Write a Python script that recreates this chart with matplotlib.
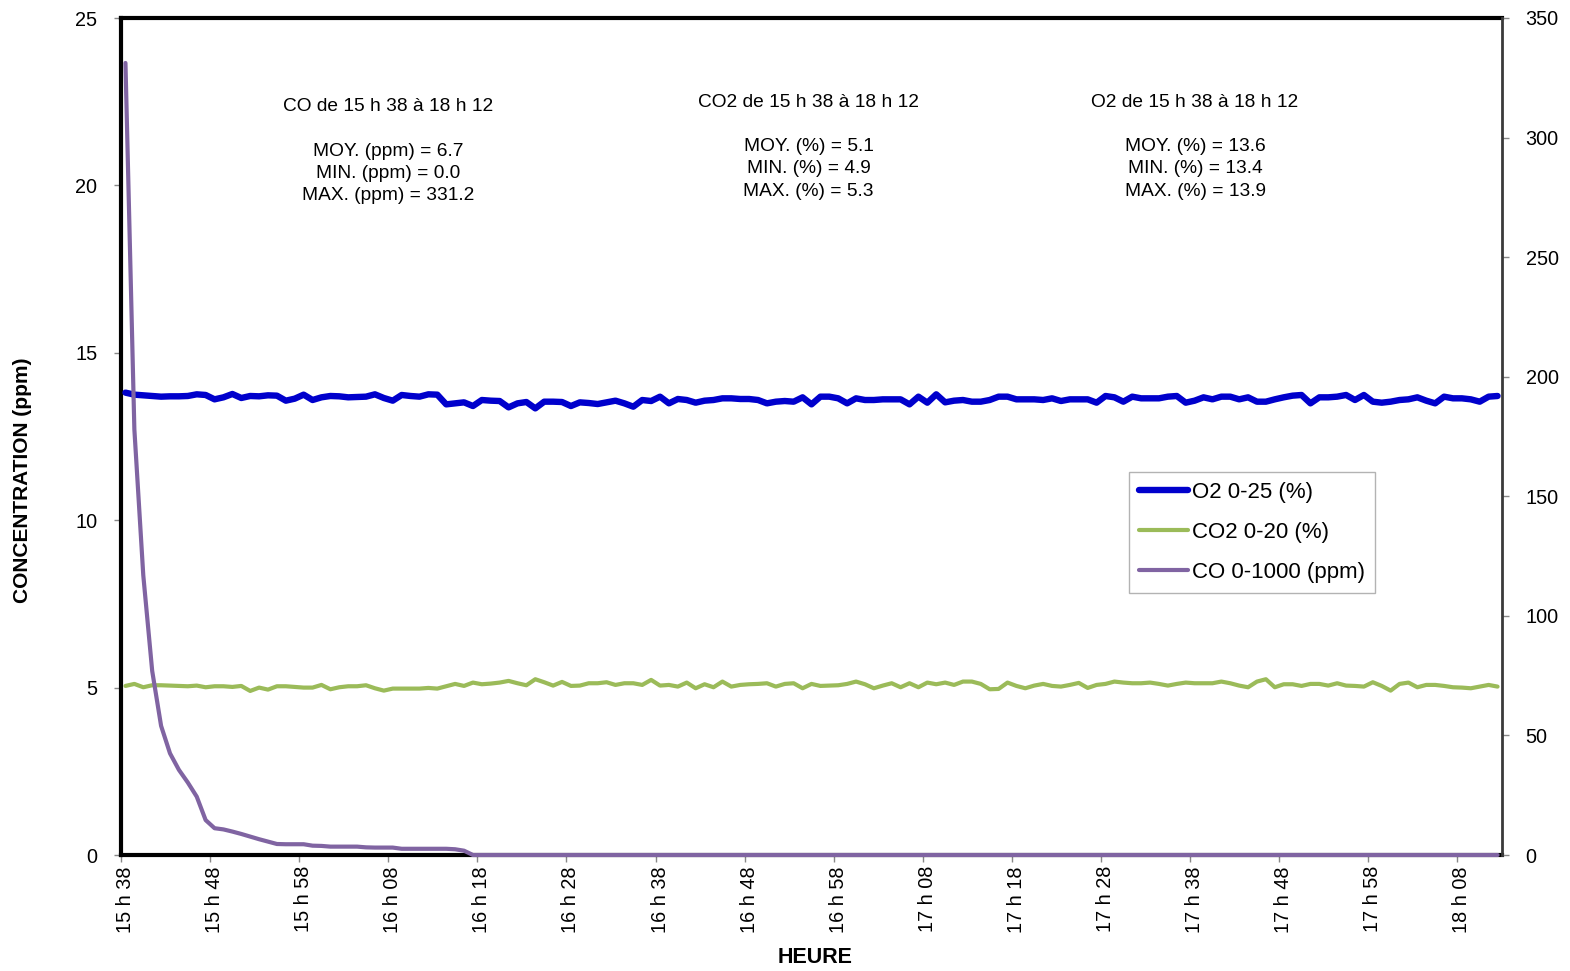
import numpy as np
import matplotlib
matplotlib.use("Agg")
import matplotlib.pyplot as plt
from matplotlib.lines import Line2D

plt.rcParams['font.family'] = ['Liberation Sans', 'DejaVu Sans']

# ---------------- data ----------------
tick_labels = ["15 h 38", "15 h 48", "15 h 58", "16 h 08", "16 h 18", "16 h 28",
               "16 h 38", "16 h 48", "16 h 58", "17 h 08", "17 h 18", "17 h 28",
               "17 h 38", "17 h 48", "17 h 58", "18 h 08"]

o2 = [13.81, 13.75, 13.73, 13.71, 13.69, 13.70, 13.70, 13.71, 13.76, 13.74,
      13.61, 13.67, 13.77, 13.65, 13.71, 13.70, 13.73, 13.72, 13.57, 13.63,
      13.75, 13.59, 13.67, 13.71, 13.70, 13.67, 13.68, 13.69, 13.76, 13.65,
      13.57, 13.74, 13.71, 13.69, 13.76, 13.75, 13.46, 13.49, 13.52, 13.41,
      13.59, 13.57, 13.56, 13.37, 13.49, 13.53, 13.34, 13.54, 13.54, 13.53,
      13.41, 13.52, 13.50, 13.47, 13.52, 13.57, 13.49, 13.39, 13.59, 13.56,
      13.69, 13.49, 13.62, 13.59, 13.51, 13.57, 13.59, 13.64, 13.64, 13.62,
      13.62, 13.59, 13.49, 13.54, 13.56, 13.54, 13.67, 13.46, 13.69, 13.69,
      13.64, 13.49, 13.64, 13.59, 13.59, 13.61, 13.61, 13.61, 13.46, 13.69,
      13.51, 13.76, 13.52, 13.57, 13.59, 13.54, 13.54, 13.59, 13.69, 13.69,
      13.61, 13.61, 13.61, 13.59, 13.64, 13.56, 13.61, 13.61, 13.61, 13.51,
      13.71, 13.67, 13.54, 13.69, 13.64, 13.64, 13.64, 13.69, 13.71, 13.51,
      13.57, 13.67, 13.61, 13.69, 13.69, 13.61, 13.67, 13.54, 13.54, 13.61,
      13.67, 13.72, 13.74, 13.49, 13.67, 13.67, 13.69, 13.74, 13.59, 13.74,
      13.54, 13.51, 13.54, 13.59, 13.61, 13.67, 13.57, 13.49, 13.69, 13.64,
      13.64, 13.61, 13.54, 13.69, 13.71]

co2 = [5.05, 5.11, 5.01, 5.07, 5.07, 5.06, 5.05, 5.04, 5.06, 5.01,
       5.04, 5.04, 5.02, 5.05, 4.90, 5.00, 4.94, 5.04, 5.04, 5.02,
       5.00, 5.00, 5.08, 4.95, 5.01, 5.04, 5.04, 5.07, 4.98, 4.91,
       4.97, 4.97, 4.97, 4.97, 4.99, 4.97, 5.04, 5.11, 5.05, 5.15,
       5.10, 5.12, 5.15, 5.20, 5.13, 5.07, 5.25, 5.16, 5.06, 5.17,
       5.05, 5.06, 5.13, 5.13, 5.16, 5.08, 5.13, 5.13, 5.08, 5.23,
       5.06, 5.08, 5.03, 5.15, 4.98, 5.10, 5.01, 5.18, 5.03, 5.08,
       5.10, 5.11, 5.13, 5.03, 5.11, 5.13, 4.98, 5.11, 5.05, 5.06,
       5.07, 5.11, 5.18, 5.10, 4.98, 5.06, 5.13, 5.01, 5.13, 5.01,
       5.15, 5.10, 5.15, 5.08, 5.18, 5.18, 5.11, 4.95, 4.96, 5.15,
       5.05, 4.98, 5.06, 5.11, 5.05, 5.03, 5.08, 5.14, 4.99, 5.08,
       5.11, 5.18, 5.15, 5.13, 5.13, 5.15, 5.11, 5.06, 5.11, 5.15,
       5.13, 5.13, 5.13, 5.18, 5.13, 5.06, 5.01, 5.18, 5.25, 5.01,
       5.10, 5.10, 5.05, 5.11, 5.11, 5.06, 5.13, 5.06, 5.05, 5.03,
       5.16, 5.05, 4.91, 5.11, 5.15, 5.01, 5.08, 5.08, 5.05, 5.01,
       5.00, 4.98, 5.03, 5.08, 5.03]

co = ([331.2, 178.0, 117.0, 77.0, 54.0, 42.5, 35.6, 30.3, 24.4, 14.6,
       11.2, 10.7, 9.8, 8.8, 7.7, 6.6, 5.6, 4.6, 4.5, 4.5,
       4.5, 3.9, 3.8, 3.5, 3.5, 3.5, 3.5, 3.2, 3.1, 3.1,
       3.1, 2.6, 2.6, 2.6, 2.6, 2.6, 2.6, 2.4, 1.8, 0.0]
      + [0.0] * 115)

series_labels = ["O2 0-25 (%)", "CO2 0-20 (%)", "CO 0-1000 (ppm)"]

co_text = ["CO de 15 h 38 à 18 h 12", "MOY. (ppm) = 6.7", "MIN. (ppm) = 0.0", "MAX. (ppm) = 331.2"]
co2_text = ["CO2 de 15 h 38 à 18 h 12", "MOY. (%) = 5.1", "MIN. (%) = 4.9", "MAX. (%) = 5.3"]
o2_text = ["O2 de 15 h 38 à 18 h 12", "MOY. (%) = 13.6", "MIN. (%) = 13.4", "MAX. (%) = 13.9"]

# ---------------- figure ----------------
W, H = 1570, 971
fig = plt.figure(figsize=(W / 100, H / 100), dpi=100)
L, R, T, B = 121, 1502, 18, 855
ax = fig.add_axes([L / W, 1 - B / H, (R - L) / W, (B - T) / H])
ax2 = ax.twinx()

x = np.arange(len(o2))
c_o2 = "#0000CC"
c_co2 = "#9BBB59"
c_co = "#8064A2"

ax.plot(x, o2, color=c_o2, lw=4.6, solid_joinstyle='round', solid_capstyle='round', zorder=3)
ax.plot(x, co2, color=c_co2, lw=3.0, solid_joinstyle='round', solid_capstyle='round', zorder=3)
ax2.plot(x, co, color=c_co, lw=3.0, solid_joinstyle='round', solid_capstyle='round',
         clip_on=False, zorder=3)

ax.set_xlim(-0.5, len(o2) - 0.5)
ax.set_ylim(0, 25)
ax2.set_ylim(0, 350)

ax.set_yticks(np.arange(0, 26, 5))
ax2.set_yticks(np.arange(0, 351, 50))
ax.set_xticks(np.arange(0, len(o2), 10))
ax.set_xticklabels(tick_labels, rotation=90)
ax.set_xticks(np.arange(-0.5, len(o2), 10), minor=True)

ax.tick_params(axis='x', which='major', length=0, pad=8, labelsize=14.3)
ax.tick_params(axis='x', which='minor', length=5, width=1, color='#888888', direction='out')
ax.tick_params(axis='y', length=5, width=1, color='#888888', direction='out', labelsize=14.3, pad=12)
ax2.tick_params(axis='y', length=5, width=1, color='#888888', direction='out', labelsize=14.3, pad=12)

for s in ['left', 'bottom', 'top']:
    ax.spines[s].set_linewidth(3.0)
    ax.spines[s].set_color('black')
ax.spines['right'].set_visible(False)
for s in ['left', 'bottom', 'top']:
    ax2.spines[s].set_visible(False)
ax2.spines['right'].set_linewidth(2.0)
ax2.spines['right'].set_color('#3a3a3a')

# annotations
def block(lines, xc, ys):
    for t, yy in zip(lines, ys):
        ax2.text(xc, yy, t, transform=ax.transAxes, ha='center', va='center', fontsize=13.8)

block(co_text, 0.1933, [0.894, 0.840, 0.814, 0.788])
block(co2_text, 0.498, [0.899, 0.846, 0.820, 0.7925])
block(o2_text, 0.7777, [0.899, 0.846, 0.820, 0.7925])

# axis labels
fig.text(0.0145, 0.5057, "CONCENTRATION (ppm)", rotation=90, ha='center', va='center',
         fontsize=15, fontweight='bold')
fig.text(0.519, 0.0144, "HEURE", ha='center', va='center', fontsize=15.5, fontweight='bold')

# legend
handles = [Line2D([], [], color=c_o2, lw=4.6, solid_capstyle='round'),
           Line2D([], [], color=c_co2, lw=3.0, solid_capstyle='round'),
           Line2D([], [], color=c_co, lw=3.0, solid_capstyle='round')]
leg = ax2.legend(handles, series_labels, loc='upper left', bbox_to_anchor=(0.730, 0.4576),
                 fontsize=16, frameon=True, fancybox=False, shadow=False,
                 handlelength=2.2, handletextpad=0.2, labelspacing=0.85,
                 borderpad=0.45, borderaxespad=0.0)
leg.get_frame().set_edgecolor('#a0a0a0')
leg.get_frame().set_linewidth(1.0)

fig.savefig("out.png", dpi=100)
